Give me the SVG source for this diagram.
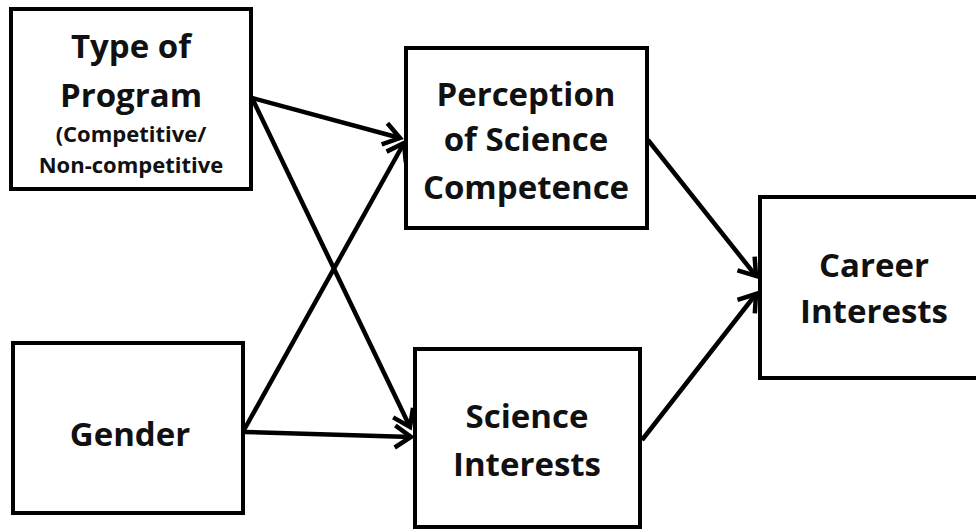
<svg xmlns="http://www.w3.org/2000/svg" width="976" height="529" viewBox="0 0 976 529">
<style>
.box{fill:#fff;stroke:#000;stroke-width:4}
.t{font-family:"Open Sans",Lato,"Liberation Sans",sans-serif;font-weight:bold;fill:#111;text-anchor:middle}
.big{font-size:33px}
.sm{font-size:22px}
.edge{stroke:#000;stroke-width:4.5;fill:none;marker-end:url(#arr)}
</style>
<defs>
<marker id="arr" markerUnits="userSpaceOnUse" markerWidth="30" markerHeight="30" refX="20" refY="13" orient="auto" viewBox="0 0 30 26">
<path d="M4,2 L20,13 L4,24" fill="none" stroke="#000" stroke-width="4.5" stroke-linejoin="miter"/>
</marker>
</defs>
<rect width="976" height="529" fill="#fff"/>
<g id="connectors">
<line class="edge" x1="252" y1="98" x2="400" y2="138"/>
<line class="edge" x1="252" y1="98" x2="410" y2="427"/>
<line class="edge" x1="244" y1="430" x2="404" y2="143"/>
<line class="edge" x1="244" y1="432" x2="411" y2="437"/>
<line class="edge" x1="648" y1="140" x2="756" y2="276"/>
<line class="edge" x1="642" y1="440" x2="756" y2="294"/>
</g>
<g id="type-of-program">
<rect class="box" x="11" y="9" width="240" height="180"/>
<text class="t big" x="131" y="58">Type of</text>
<text class="t big" x="131" y="107">Program</text>
<text class="t sm" x="131" y="142">(Competitive/</text>
<text class="t sm" x="131" y="173">Non-competitive</text>
</g>
<g id="perception">
<rect class="box" x="406" y="48" width="241" height="180"/>
<text class="t big" x="526" y="106">Perception</text>
<text class="t big" x="526" y="151">of Science</text>
<text class="t big" x="526" y="199">Competence</text>
</g>
<g id="career">
<rect class="box" x="760" y="197" width="218" height="181"/>
<text class="t big" x="874" y="277">Career</text>
<text class="t big" x="874" y="323">Interests</text>
</g>
<g id="gender">
<rect class="box" x="13" y="343" width="230" height="170"/>
<text class="t big" x="130" y="446">Gender</text>
</g>
<g id="science-interests">
<rect class="box" x="415" y="349" width="225" height="178"/>
<text class="t big" x="527" y="428">Science</text>
<text class="t big" x="527" y="476">Interests</text>
</g>
</svg>
